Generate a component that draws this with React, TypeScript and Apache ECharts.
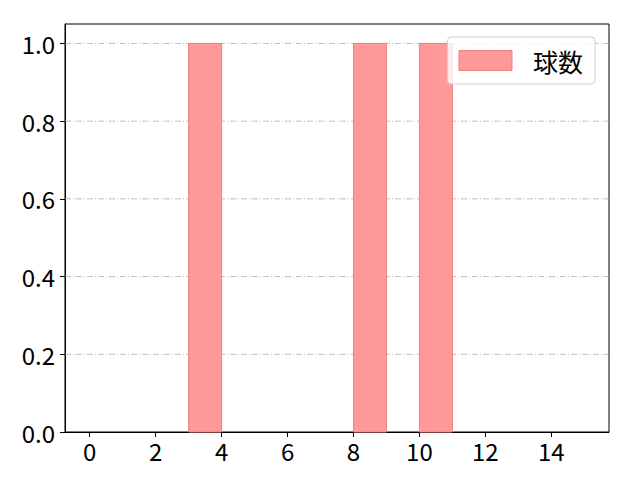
import React, { useEffect, useRef } from 'react';
import * as echarts from 'echarts';

// histogram bins (left edge), bin width and counts
const binStarts = [3, 8, 10];
const binWidth = 1;
const counts = [1, 1, 1];
const seriesName = '球数';

const xTicks = [0, 2, 4, 6, 8, 10, 12, 14];
const yTicks = [0, 0.2, 0.4, 0.6, 0.8, 1.0];

const FONT = '"Noto Sans CJK JP", "DejaVu Sans", sans-serif';

const App: React.FC = () => {
  const chartRef = useRef<HTMLDivElement>(null);

  useEffect(() => {
    const chart = echarts.init(chartRef.current!, undefined, { renderer: 'svg' });

    const data = binStarts.map((s, i) => [s, s + binWidth, counts[i]]);

    const options = {
      animation: false,
      grid: {
        left: 65,
        right: 31,
        top: 24,
        bottom: 48,
        show: true,
        borderColor: '#000',
        borderWidth: 1,
        backgroundColor: 'transparent',
      },
      legend: {
        right: 45,
        top: 37,
        orient: 'vertical',
        data: [seriesName],
        icon: 'rect',
        itemWidth: 53,
        itemHeight: 20,
        padding: [11, 12, 11, 11],
        borderColor: '#d0d0d0',
        borderWidth: 1,
        borderRadius: 4,
        backgroundColor: 'rgba(255,255,255,0.8)',
        itemStyle: { color: '#ff9999', borderColor: '#f08080', borderWidth: 1 },
        textStyle: {
          fontFamily: FONT,
          fontSize: 25,
          color: '#000',
          padding: [0, 0, 0, 16],
        },
      },
      xAxis: {
        type: 'value',
        min: -0.75,
        max: 15.75,
        splitLine: { show: false },
        axisLine: { show: true, onZero: false, lineStyle: { color: '#000' } },
        axisTick: {
          show: true,
          inside: false,
          length: 5,
          customValues: xTicks,
          lineStyle: { color: '#000' },
        },
        axisLabel: {
          customValues: xTicks,
          fontFamily: FONT,
          fontSize: 24,
          color: '#000',
          margin: 6,
        },
      },
      yAxis: {
        type: 'value',
        min: 0,
        max: 1.05,
        axisLine: { show: true, onZero: false, lineStyle: { color: '#000' } },
        axisTick: {
          show: true,
          length: 5,
          customValues: yTicks,
          lineStyle: { color: '#000' },
        },
        axisLabel: {
          customValues: yTicks,
          formatter: (v: number) => v.toFixed(1),
          fontFamily: FONT,
          fontSize: 24,
          color: '#000',
          margin: 10,
        },
        splitLine: { show: false },
      },
      series: [
        {
          // dash-dot grid lines behind bars
          type: 'custom',
          silent: true,
          z: 1,
          renderItem: (params: any, api: any) => {
            const y = api.value(0);
            const [x0, py] = api.coord([-0.75, y]);
            const [x1] = api.coord([15.75, y]);
            return {
              type: 'line',
              shape: { x1: x0, y1: py, x2: x1, y2: py },
              style: { stroke: '#b0b0b0', lineWidth: 0.8, lineDash: [6, 2, 1, 2] },
            };
          },
          data: yTicks.filter((v) => v > 0).map((v) => [v]),
        },
        {
          name: seriesName,
          type: 'custom',
          z: 2,
          renderItem: (params: any, api: any) => {
            const [xa, ya] = api.coord([api.value(0), api.value(2)]);
            const [xb, yb] = api.coord([api.value(1), 0]);
            return {
              type: 'rect',
              shape: { x: xa, y: ya, width: xb - xa, height: yb - ya },
              style: { fill: '#ff9999', stroke: '#f08080', lineWidth: 1 },
            };
          },
          encode: { x: [0, 1], y: 2 },
          itemStyle: { color: '#ff9999', borderColor: '#f08080' },
          data,
        },
      ],
    };

    chart.setOption(options as any);

    return () => {
      chart.dispose();
    };
  }, []);

  return <div ref={chartRef} style={{ width: 640, height: 480, margin: -8 }} />;
};

export default App;
